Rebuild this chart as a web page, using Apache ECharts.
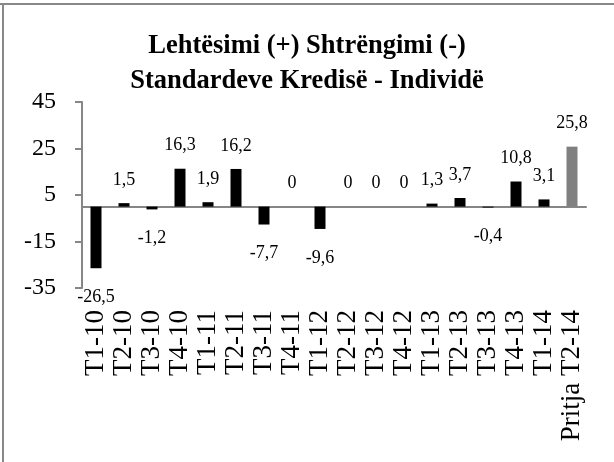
<!DOCTYPE html>
<html>
<head>
<meta charset="utf-8">
<style>
  html, body { margin: 0; padding: 0; background: #fff; }
  #chart { width: 614px; height: 462px; }
</style>
<script src="https://cdn.jsdelivr.net/npm/echarts@6/dist/echarts.min.js"></script>
</head>
<body>
<div id="chart"></div>
<script>
// kuartalet dhe vlerat
var periods = ['T1-10', 'T2-10', 'T3-10', 'T4-10', 'T1-11', 'T2-11', 'T3-11', 'T4-11',
               'T1-12', 'T2-12', 'T3-12', 'T4-12', 'T1-13', 'T2-13', 'T3-13', 'T4-13',
               'T1-14', 'Pritja T2-14'];
var values = [-26.5, 1.5, -1.2, 16.3, 1.9, 16.2, -7.7, 0, -9.6, 0, 0, 0, 1.3, 3.7, -0.4, 10.8, 3.1, 25.8];
var yTicks = [-35, -15, 5, 25, 45];

var chart = echarts.init(document.getElementById('chart'));
var fontFam = '"Liberation Serif", "Times New Roman", serif';
var axisGray = '#868686';

var barData = values.map(function (v, i) {
    var last = i === values.length - 1;
    return {
        value: v,
        itemStyle: { color: last ? '#808080' : '#000' },
        label: {
            position: v < 0 ? 'bottom' : 'top',
            distance: v < 0 ? 20 : 14
        }
    };
});

var option = {
    animation: false,
    textStyle: { fontFamily: fontFam },
    title: {
        text: 'Lehtësimi (+) Shtrëngimi (-)\nStandardeve Kredisë - Individë',
        left: 'center',
        top: 24,
        textStyle: {
            fontFamily: fontFam,
            fontWeight: 'bold',
            fontSize: 26.5,
            lineHeight: 35,
            color: '#000'
        }
    },
    grid: { left: 82, right: 28, top: 102, bottom: 174 },
    xAxis: [{
        type: 'category',
        data: periods,
        axisLine: { onZero: true, lineStyle: { color: axisGray, width: 2 } },
        axisTick: { alignWithLabel: true, length: 5, lineStyle: { color: axisGray, width: 2 } },
        axisLabel: { show: false }
    }, {
        type: 'category',
        data: periods,
        position: 'bottom',
        axisLine: { show: false, onZero: false },
        axisTick: { show: false },
        axisLabel: {
            interval: 0,
            rotate: 90,
            margin: 22,
            fontSize: 27,
            color: '#000',
            fontFamily: fontFam
        }
    }],
    yAxis: {
        type: 'value',
        min: yTicks[0],
        max: yTicks[yTicks.length - 1],
        interval: 20,
        splitLine: { show: false },
        axisLine: { show: true, lineStyle: { color: axisGray, width: 2 } },
        axisTick: { show: true, length: 7, lineStyle: { color: axisGray, width: 2 } },
        axisLabel: { fontSize: 24, color: '#000', margin: 26, fontFamily: fontFam }
    },
    graphic: [
        { type: 'line', shape: { x1: 0, y1: 4, x2: 614, y2: 4 }, style: { stroke: '#888', lineWidth: 2 } },
        { type: 'line', shape: { x1: 3, y1: 3, x2: 3, y2: 462 }, style: { stroke: '#888', lineWidth: 2 } }
    ],
    series: [{
        type: 'bar',
        xAxisIndex: 0,
        data: barData,
        barWidth: 11,
        label: {
            show: true,
            fontSize: 18,
            color: '#000',
            fontFamily: fontFam,
            formatter: function (p) { return String(p.value).replace('.', ','); }
        }
    }]
};
chart.setOption(option);
</script>
</body>
</html>
